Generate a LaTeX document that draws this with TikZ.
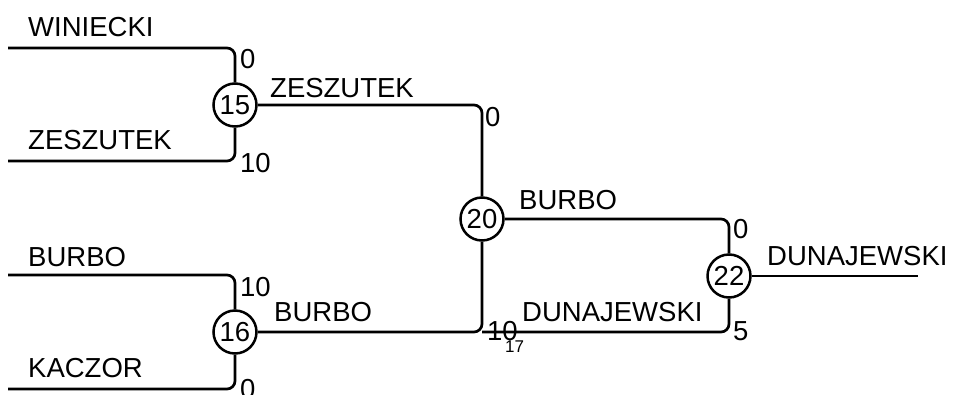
\documentclass[tikz,border=0pt]{standalone}
\usepackage{fontspec}
\setmainfont{Liberation Sans}
\begin{document}
\begin{tikzpicture}[x=1pt,y=-1pt,
  every node/.style={font=\fontsize{27.5}{27.5}\selectfont, inner sep=0pt},
  link/.style={line width=2.7pt, rounded corners=8pt},
  vote/.style={circle, draw, line width=2.5pt, minimum size=43pt, inner sep=0pt},
  lbl/.style={anchor=west},
  tiny/.style={anchor=west, font=\fontsize{17}{17}\selectfont}]
\useasboundingbox (0,0) rectangle (953,394);
\node[vote] (n15) at (235,105) {15};
\node[vote] (n16) at (235,332) {16};
\node[vote] (n20) at (482,219) {20};
\node[vote] (n22) at (729,276) {22};
\coordinate (w) at (8,48);
\coordinate (z) at (8,161);
\coordinate (b) at (8,275);
\coordinate (k) at (8,389);
\coordinate (n17) at (482,332);
\coordinate (out) at (918,276);
\draw[link] (w) -| (n15);
\draw[link] (z) -| (n15);
\draw[link] (b) -| (n16);
\draw[link] (k) -| (n16);
\draw[link] (n15) -| (n20);
\draw[link] (n16) -| (n20);
\draw[link] (n20) -| (n22);
\draw[link] (n17) -| (n22);
\draw[link] (n22) -- (out);
% names
\node[lbl] (tW) at (28,27) {WINIECKI};
\node[lbl] (tZ) at (28,140) {ZESZUTEK};
\node[lbl] (tB) at (28,257) {BURBO};
\node[lbl] (tK) at (28,368) {KACZOR};
\node[lbl] (tZ2) at (270,88) {ZESZUTEK};
\node[lbl] (tB2) at (274,312) {BURBO};
\node[lbl] (tB3) at (519,200) {BURBO};
\node[lbl] (tD) at (522,312) {DUNAJEWSKI};
\node[lbl] (tD2) at (767,256) {DUNAJEWSKI};
% numbers
\node[lbl] (s1) at (240,59) {0};
\node[lbl] (s2) at (240,163) {10};
\node[lbl] (s3) at (240,287) {10};
\node[lbl] (s4) at (240,389) {0};
\node[lbl] (s5) at (485,117) {0};
\node[lbl] (s6) at (487,331) {10};
\node[lbl] (s7) at (733,229) {0};
\node[lbl] (s8) at (733,331) {5};
\node[tiny] (s9) at (505,347) {17};
\end{tikzpicture}
\end{document}
